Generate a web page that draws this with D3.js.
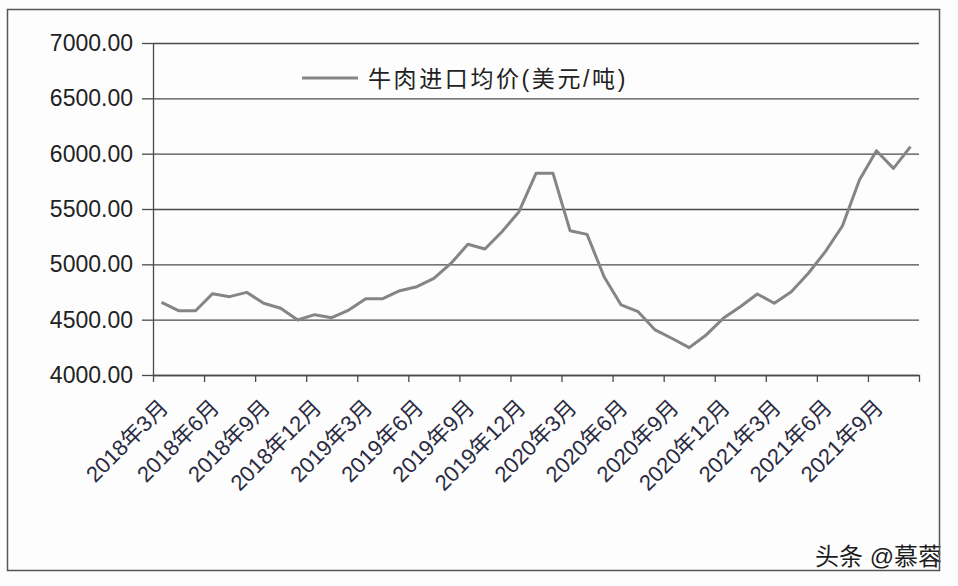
<!DOCTYPE html>
<html>
<head>
<meta charset="utf-8">
<script src="https://cdn.jsdelivr.net/npm/d3@7"></script>
<style>
  body { margin: 0; background: #fdfdfd; }
  text { font-family: "Liberation Sans", "Noto Sans CJK SC", sans-serif; }
</style>
</head>
<body>
<div id="chart"></div>
<script>
const ancho = 958;
const alto = 586;
const margen = { superior: 43, inferior: 211, izquierdo: 153, derecho: 39 };

// meses (categorias), 2018年3月 .. 2021年11月
const meses = [
  "2018年3月", "2018年4月", "2018年5月", "2018年6月", "2018年7月", "2018年8月",
  "2018年9月", "2018年10月", "2018年11月", "2018年12月", "2019年1月", "2019年2月",
  "2019年3月", "2019年4月", "2019年5月", "2019年6月", "2019年7月", "2019年8月",
  "2019年9月", "2019年10月", "2019年11月", "2019年12月", "2020年1月", "2020年2月",
  "2020年3月", "2020年4月", "2020年5月", "2020年6月", "2020年7月", "2020年8月",
  "2020年9月", "2020年10月", "2020年11月", "2020年12月", "2021年1月", "2021年2月",
  "2021年3月", "2021年4月", "2021年5月", "2021年6月", "2021年7月", "2021年8月",
  "2021年9月", "2021年10月", "2021年11月",
];
// 牛肉进口均价 (美元/吨)
const precios = [
  4657, 4581, 4581, 4735, 4708, 4747, 4648, 4603, 4497, 4545, 4518, 4587,
  4690, 4690, 4762, 4798, 4873, 5008, 5181, 5138, 5295, 5476, 5822, 5822,
  5304, 5271, 4888, 4633, 4572, 4407, 4330, 4247, 4362, 4512, 4617, 4732,
  4648, 4753, 4919, 5115, 5346, 5762, 6027, 5867, 6063,
];
const etiquetasX = [
  "2018年3月", "2018年6月", "2018年9月", "2018年12月", "2019年3月", "2019年6月",
  "2019年9月", "2019年12月", "2020年3月", "2020年6月", "2020年9月", "2020年12月",
  "2021年3月", "2021年6月", "2021年9月",
];
const ticksY = [4000, 4500, 5000, 5500, 6000, 6500, 7000];
const nombreSerie = "牛肉进口均价(美元/吨)";

const anchoPlot = ancho - margen.izquierdo - margen.derecho;
const altoPlot = alto - margen.superior - margen.inferior;

const svg = d3.select("#chart").append("svg")
  .attr("width", ancho)
  .attr("height", alto);

svg.append("rect")
  .attr("width", ancho).attr("height", alto)
  .attr("fill", "#fdfdfd");

// escalas
const x = d3.scaleBand().domain(meses).range([margen.izquierdo, margen.izquierdo + anchoPlot]);
const xTicks = d3.scaleLinear().domain([0, meses.length]).range([margen.izquierdo, margen.izquierdo + anchoPlot]);
const y = d3.scaleLinear().domain([4000, 7000]).range([margen.superior + altoPlot, margen.superior]);

// rejilla
const rejilla = svg.append("g")
  .attr("transform", `translate(${margen.izquierdo},0)`)
  .call(d3.axisLeft(y).tickValues(ticksY).tickSize(-anchoPlot).tickFormat(""));
rejilla.select(".domain").remove();
rejilla.selectAll("line").attr("stroke", "#4a4a4a").attr("stroke-width", 1.3);

// eje Y
const grupoY = svg.append("g")
  .attr("transform", `translate(${margen.izquierdo},0)`)
  .call(d3.axisLeft(y).tickValues(ticksY).tickSize(11).tickSizeOuter(0).tickPadding(9).tickFormat(d3.format(".2f")));
grupoY.selectAll("line, path").attr("stroke", "#4a4a4a").attr("stroke-width", 1.3);
grupoY.selectAll("text")
  .attr("font-size", 23)
  .attr("fill", "#222")
  .style("font-family", '"Liberation Sans", sans-serif');

// eje X (marcas cada 3 meses)
const grupoX = svg.append("g")
  .attr("transform", `translate(0,${margen.superior + altoPlot})`)
  .call(d3.axisBottom(xTicks).tickValues(d3.range(0, meses.length + 1, 3)).tickSize(7).tickSizeOuter(0).tickFormat(""));
grupoX.selectAll("line, path").attr("stroke", "#4a4a4a").attr("stroke-width", 1.3);

const grupoEtiq = svg.append("g")
  .attr("transform", `translate(0,${margen.superior + altoPlot})`)
  .call(d3.axisBottom(x).tickValues(etiquetasX).tickSize(0).tickSizeOuter(0));
grupoEtiq.select(".domain").remove();
grupoEtiq.selectAll("text")
  .attr("y", 0).attr("dy", 0)
  .attr("text-anchor", "end")
  .attr("transform", "translate(8,34) rotate(-45)")
  .attr("font-size", 22)
  .attr("fill", "#2b2b42");

// linea
const linea = d3.line()
  .x((d, i) => x(meses[i]) + x.bandwidth() / 2)
  .y((d) => y(d));
svg.append("path")
  .datum(precios)
  .attr("fill", "none")
  .attr("stroke", "#858585")
  .attr("stroke-width", 3)
  .attr("stroke-linejoin", "round")
  .attr("d", linea);

// leyenda
const leyenda = svg.append("g").attr("transform", "translate(302,78)");
leyenda.append("line")
  .attr("x1", 0).attr("x2", 56)
  .attr("stroke", "#858585").attr("stroke-width", 3);
leyenda.append("text")
  .attr("x", 66).attr("y", 9)
  .attr("font-size", 23)
  .attr("letter-spacing", 2.6)
  .attr("fill", "#222")
  .text(nombreSerie);

// marca de agua
svg.append("text")
  .attr("x", 815).attr("y", 565)
  .attr("font-size", 24)
  .attr("fill", "#1e1e1e")
  .attr("stroke", "#fff").attr("stroke-width", 3)
  .attr("paint-order", "stroke")
  .text("头条 @慕蓉");

// borde
svg.append("rect")
  .attr("x", 7.5).attr("y", 9.5)
  .attr("width", 932).attr("height", 561)
  .attr("fill", "none")
  .attr("stroke", "#555")
  .attr("stroke-width", 1.5);
</script>
</body>
</html>
